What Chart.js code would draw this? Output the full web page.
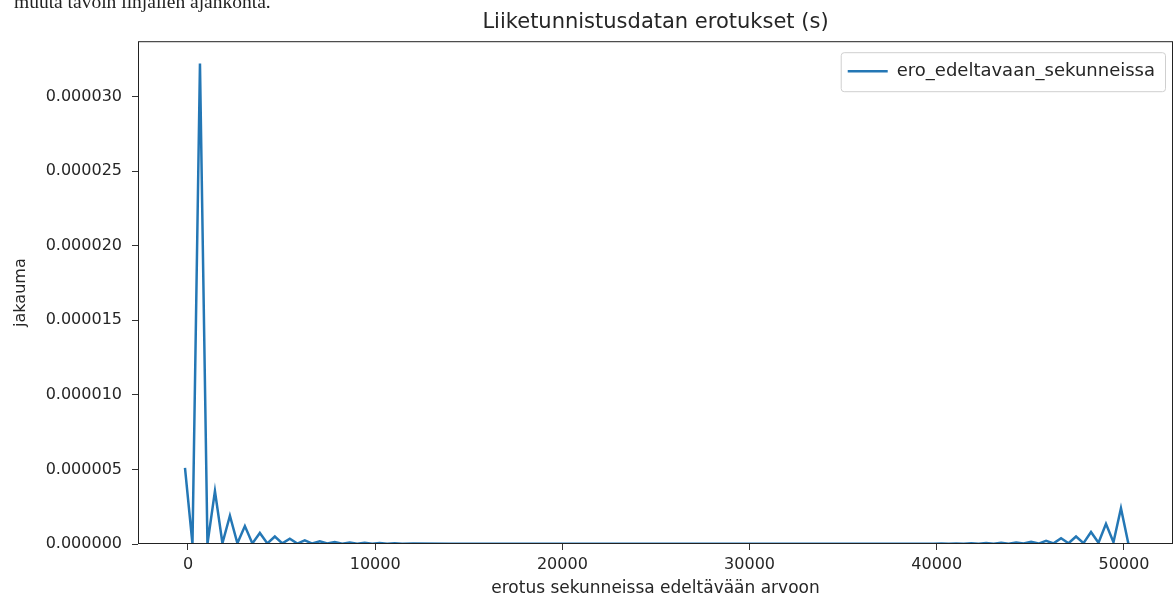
<!DOCTYPE html>
<html lang="fi">
<head>
<meta charset="utf-8">
<title>Liiketunnistusdatan erotukset</title>
<script src="https://cdn.jsdelivr.net/npm/chart.js"></script>
<style>
  html, body { margin: 0; padding: 0; background: #fff; overflow: hidden; }
  #teksti { position: absolute; left: 14px; top: -8px; font: 19.5px "Liberation Serif", serif; line-height: 20px; color: #222; white-space: nowrap; }
  #myChart { display: block; }
</style>
</head>
<body>
<div id="teksti">muuta tavoin linjallen ajankohta.</div>
<canvas id="myChart" width="1176" height="603"></canvas>
<script>
// x: erotus sekunneissa, y: jakauma (luettu kuvasta)
const erotukset = [
  -160, 240, 640, 1040, 1440, 1840, 2240, 2640, 3040, 3440,
  3840, 4240, 4640, 5040, 5440, 5840, 6240, 6640, 7040, 7440,
  7840, 8240, 8640, 9040, 9440, 9840, 10240, 10640, 11040, 11440,
  12040, 14040, 17040, 20040, 24040, 28040, 32040, 36040, 38040, 39040,
  39840, 40240, 40640, 41040, 41440, 41840, 42240, 42640, 43040, 43440,
  43840, 44240, 44640, 45040, 45440, 45840, 46240, 46640, 47040, 47440,
  47840, 48240, 48640, 49040, 49440, 49840, 50240
];
const jakauma = [
  5.1e-6, 0, 3.22e-5, 0, 3.55e-6, 5e-8, 1.9e-6, 5e-8, 1.2e-6, 4e-8,
  7.4e-7, 4e-8, 5e-7, 4e-8, 3.5e-7, 3e-8, 2.5e-7, 3e-8, 1.8e-7, 3e-8,
  1.3e-7, 2e-8, 1e-7, 2e-8, 8e-8, 2e-8, 6e-8, 2e-8, 5e-8, 2e-8,
  3e-8, 2e-8, 1.5e-8, 1.5e-8, 1e-8, 1e-8, 1e-8, 1.5e-8, 2e-8, 2e-8,
  2e-8, 3e-8, 2e-8, 4e-8, 2e-8, 5e-8, 2e-8, 6e-8, 2e-8, 8e-8,
  2e-8, 1e-7, 3e-8, 1.5e-7, 3e-8, 2.2e-7, 4e-8, 3.8e-7, 5e-8, 5e-7,
  6e-8, 8e-7, 8e-8, 1.35e-6, 1.2e-7, 2.4e-6, 0
];
const xTicks = [0, 10000, 20000, 30000, 40000, 50000];
const yTicks = [0, 0.000005, 0.00001, 0.000015, 0.00002, 0.000025, 0.00003];

const otsikko = "Liiketunnistusdatan erotukset (s)";
const sarjanNimi = "ero_edeltavaan_sekunneissa";
const xOtsikko = "erotus sekunneissa edeltävään arvoon";
const yOtsikko = "jakauma";

const tekstinVari = "#262626";
const viivanVari = "#2477b5";

Chart.defaults.font.family = "'DejaVu Sans', sans-serif";
Chart.defaults.color = tekstinVari;

// siirretään selite kuvaajan oikeaan yläkulmaan (hitboxit ovat tässä vaiheessa vielä suhteellisia)
const seliteOikealle = {
  id: "seliteOikealle",
  afterLayout(chart) {
    const legend = chart.legend;
    const a = chart.chartArea;
    const boxes = legend.legendHitBoxes;
    if (!boxes || !boxes.length) return;
    const pad = legend.options.labels.padding;
    legend.left = a.right - 18 - boxes[0].width - pad;
    legend.right = a.right;
    legend.top = a.top;
    legend.bottom = a.bottom;
  }
};

// kehys kuvaajan ja selitteen ympärille
const kehys = {
  id: "kehys",
  afterDraw(chart) {
    const { ctx, chartArea: a } = chart;
    ctx.save();
    ctx.strokeStyle = "#222";
    ctx.lineWidth = 1;
    ctx.strokeRect(a.left + 0.5, a.top + 0.5, a.right - a.left - 1, a.bottom - a.top - 1);

    const boxes = chart.legend.legendHitBoxes;
    if (boxes && boxes.length) {
      const b = boxes[0];
      ctx.strokeStyle = "#cfcfcf";
      ctx.beginPath();
      ctx.roundRect(b.left - 7 + 0.5, b.top - 10 + 0.5, b.width + 17, b.height + 21, 3);
      ctx.stroke();
    }
    ctx.restore();
  }
};

function teePisteet() {
  return erotukset.map((x, i) => ({ x: x, y: jakauma[i] }));
}

const config = {
  type: "line",
  data: {
    datasets: [
      {
        label: sarjanNimi,
        data: teePisteet(),
        borderColor: viivanVari,
        backgroundColor: viivanVari,
        borderWidth: 2.5,
        pointRadius: 0,
        tension: 0,
        fill: false
      }
    ]
  },
  options: {
    responsive: false,
    animation: false,
    devicePixelRatio: 1,
    layout: { padding: { left: 0, right: 3, top: 0, bottom: 0 } },
    plugins: {
      title: {
        display: true,
        text: otsikko,
        fullSize: false,
        color: tekstinVari,
        font: { size: 21, weight: "normal" },
        padding: { top: 10, bottom: 6 }
      },
      legend: {
        position: "chartArea",
        align: "start",
        labels: {
          usePointStyle: true,
          pointStyle: "line",
          pointStyleWidth: 40,
          boxHeight: 16,
          padding: 21,
          color: tekstinVari,
          font: { size: 18 }
        }
      },
      tooltip: { enabled: false }
    },
    scales: {
      x: {
        type: "linear",
        min: -2670,
        max: 52620,
        afterBuildTicks: (s) => { s.ticks = xTicks.map((v) => ({ value: v })); },
        afterFit: (s) => { s.height = 59; },
        border: { display: false },
        grid: { drawOnChartArea: false, drawTicks: true, tickLength: 6, tickColor: "#333" },
        ticks: {
          padding: 5,
          maxRotation: 0,
          font: { size: 16 },
          callback: (v) => String(v)
        },
        title: {
          display: true,
          text: xOtsikko,
          font: { size: 17 },
          padding: { top: 0, bottom: 4 }
        }
      },
      y: {
        type: "linear",
        min: 0,
        max: 0.0000337,
        afterBuildTicks: (s) => { s.ticks = yTicks.map((v) => ({ value: v })); },
        afterFit: (s) => { s.width = 138; },
        border: { display: false },
        grid: { drawOnChartArea: false, drawTicks: true, tickLength: 6, tickColor: "#333" },
        ticks: {
          padding: 10,
          font: { size: 16 },
          callback: (v) => Number(v).toFixed(6)
        },
        title: {
          display: true,
          text: yOtsikko,
          font: { size: 16 },
          padding: { top: 11, bottom: 0 }
        }
      }
    }
  },
  plugins: [seliteOikealle, kehys]
};

const chartDOM = document.getElementById("myChart");
window.chartInstance = new Chart(chartDOM, config);
</script>
</body>
</html>
